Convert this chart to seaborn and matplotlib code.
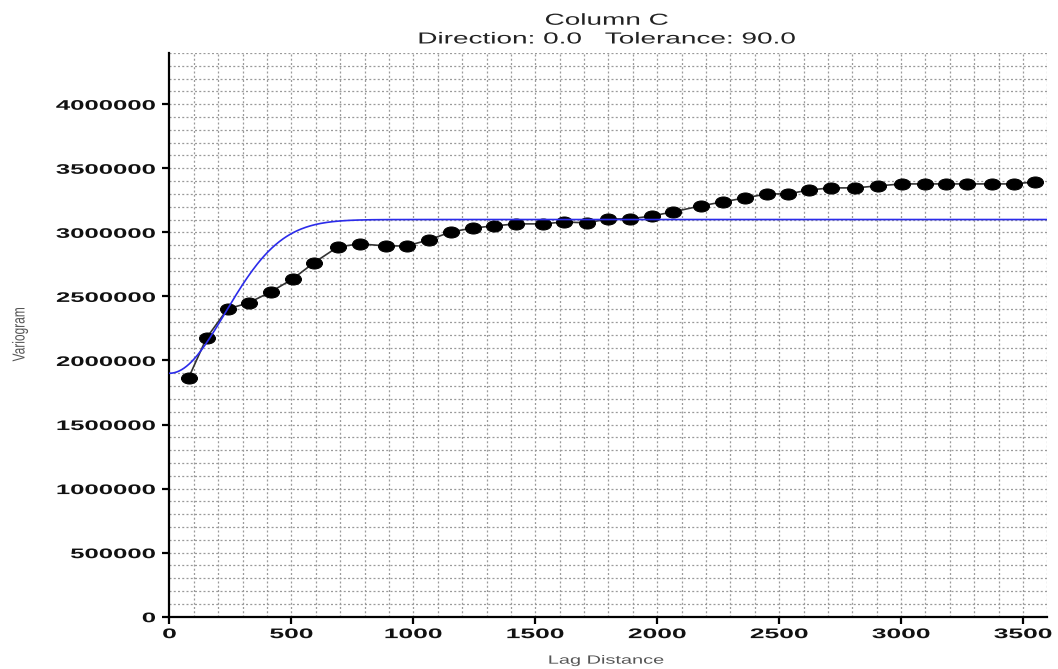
import numpy as np
import pandas as pd
import seaborn as sns
import matplotlib
matplotlib.use("Agg")
import matplotlib.pyplot as plt
from matplotlib.path import Path
from matplotlib.markers import MarkerStyle
from matplotlib.patheffects import AbstractPathEffect
from matplotlib.transforms import Affine2D

# Experimental variogram (lag centre, semivariance)
lag_distance = [78, 152, 238, 324, 415, 505, 591, 690, 780, 887, 973, 1063,
                1154, 1244, 1330, 1420, 1531, 1617, 1712, 1798, 1888, 1979,
                2065, 2180, 2270, 2360, 2451, 2537, 2623, 2713, 2812, 2906,
                3005, 3099, 3186, 3272, 3374, 3461, 3551]
variogram = [1863000, 2176000, 2402000, 2449000, 2535000, 2636000, 2761000,
             2886000, 2910000, 2894000, 2894000, 2941000, 3003000, 3034000,
             3050000, 3066000, 3066000, 3081000, 3074000, 3105000, 3105000,
             3128000, 3160000, 3207000, 3238000, 3269000, 3300000, 3300000,
             3331000, 3347000, 3347000, 3363000, 3378000, 3378000, 3378000,
             3378000, 3378000, 3378000, 3394000]

# Fitted Gaussian model
model_nugget = 1900000
model_sill = 3100000
model_range = 560

x_ticks = [0, 500, 1000, 1500, 2000, 2500, 3000, 3500]
y_ticks = [0, 500000, 1000000, 1500000, 2000000, 2500000, 3000000, 3500000, 4000000]
x_tick_labels = [str(v) for v in x_ticks]
y_tick_labels = [str(v) for v in y_ticks]

title_line1 = "Column C"
title_line2 = "Direction: 0.0   Tolerance: 90.0"
x_label = "Lag Distance"
y_label = "Variogram"


class WideText(AbstractPathEffect):
    """Stretch rendered text horizontally around an anchor."""

    def __init__(self, sx, anchor="center"):
        super().__init__()
        self.sx = sx
        self.anchor = anchor

    def draw_path(self, renderer, gc, tpath, affine, rgbFace=None):
        ext = tpath.get_extents(affine)
        if self.anchor == "right":
            a = ext.x1
        elif self.anchor == "left":
            a = ext.x0
        else:
            a = 0.5 * (ext.x0 + ext.x1)
        stretch = Affine2D().translate(-a, 0).scale(self.sx, 1).translate(a, 0)
        renderer.draw_path(gc, tpath, affine + stretch, rgbFace)


sns.set_style("white")
plt.rcParams["font.family"] = ["Liberation Sans", "DejaVu Sans"]

fig = plt.figure(figsize=(10.58, 6.69), dpi=100)
ax = fig.add_axes([0.1602, 0.0782, 0.990 - 0.1602, 0.9208 - 0.0782])

ax.set_xlim(0, 3600)
ax.set_ylim(0, 4400000)

# dense dotted grid
grid_kw = dict(color="#9a9a9a", linewidth=0.9, linestyle=(0, (1.6, 1.8)), zorder=0)
for gx in np.arange(100, 3601, 100):
    ax.axvline(gx, **grid_kw)
for gy in np.arange(100000, 4400001, 100000):
    ax.axhline(gy, **grid_kw)

# wide elliptical marker
ellipse = Path.unit_circle().transformed(Affine2D().scale(1.45, 1.0))
marker = MarkerStyle(ellipse)

df = pd.DataFrame({"lag": lag_distance, "gamma": variogram})
sns.lineplot(data=df, x="lag", y="gamma", ax=ax, color="#333333",
             linewidth=1.2, marker=marker, markersize=11.5,
             markerfacecolor="black", markeredgecolor="black", zorder=3)

h = np.linspace(0, 3600, 721)
gamma_model = model_nugget + (model_sill - model_nugget) * (1 - np.exp(-3 * h ** 2 / model_range ** 2))
sns.lineplot(x=h, y=gamma_model, ax=ax, color="#2b2bea", linewidth=1.2,
             zorder=4, estimator=None, sort=False)

for side in ("top", "right"):
    ax.spines[side].set_visible(False)
for side in ("left", "bottom"):
    ax.spines[side].set_color("black")
    ax.spines[side].set_linewidth(1.6)

ax.set_xticks(x_ticks)
ax.set_xticklabels(x_tick_labels)
ax.set_yticks(y_ticks)
ax.set_yticklabels(y_tick_labels)
ax.tick_params(axis="both", direction="out", length=5, width=1.6, color="black",
               labelsize=10, labelcolor="#111111")
ax.tick_params(axis="x", pad=2.5)
ax.tick_params(axis="y", pad=5)
ax.tick_params(left=True, bottom=True)
for lbl in ax.get_xticklabels():
    lbl.set_fontweight("bold")
    lbl.set_path_effects([WideText(1.9, "center")])
for lbl in ax.get_yticklabels():
    lbl.set_fontweight("bold")
    lbl.set_path_effects([WideText(1.85, "right")])

ax.set_xlabel("")
ax.set_ylabel("")

fig.text(0.5728, 0.0035, x_label, ha="center", va="bottom", fontsize=8.6,
         color="#555555", path_effects=[WideText(1.67, "center")])
fig.text(0.019, 0.50, y_label, ha="center", va="center", rotation=90,
         fontsize=8.6, color="#555555", path_effects=[WideText(1.45, "center")])

fig.text(0.5735, 0.963, title_line1, ha="center", va="baseline", fontsize=11.5,
         color="#222222", path_effects=[WideText(1.75, "center")])
fig.text(0.5740, 0.935, title_line2, ha="center", va="baseline", fontsize=11.5,
         color="#222222", path_effects=[WideText(1.75, "center")])

fig.savefig("out.png", dpi=100)
